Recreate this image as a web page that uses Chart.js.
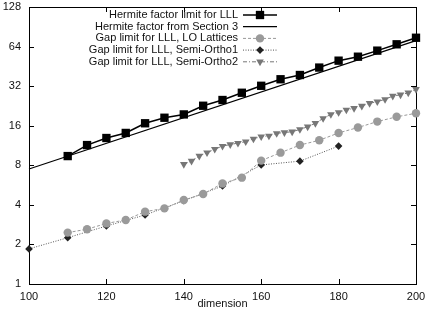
<!DOCTYPE html>
<html>
<head>
<meta charset="utf-8">
<script src="https://cdn.jsdelivr.net/npm/chart.js@4/dist/chart.umd.min.js"></script>
<style>
  html, body { margin: 0; padding: 0; background: #fff; }
  #wrap { width: 427px; height: 312px; }
</style>
</head>
<body>
<div id="wrap"><canvas id="gap-chart"></canvas></div>
<script>
// Axis ticks
const xTicks = [100, 120, 140, 160, 180, 200];
const yTicks = [1, 2, 4, 8, 16, 32, 64, 128];

// Hermite factor limit for LLL (squares)
const hermiteDims = [110, 115, 120, 125, 130, 135, 140, 145, 150, 155, 160, 165, 170, 175, 180, 185, 190, 195, 200];
const hermiteLLL = [9.4, 11.4, 12.9, 14.1, 16.7, 18.4, 19.5, 22.7, 25.1, 28.5, 32.2, 36.1, 38.9, 44.3, 50.0, 53.6, 59.6, 66.6, 74.7];

// Hermite factor from Section 3 (straight line on the log axis)
const section3Dims = [100, 200];
const section3 = [7.5, 71];

// Gap limit for LLL, LO Lattices (circles)
const loDims = [110, 115, 120, 125, 130, 135, 140, 145, 150, 155, 160, 165, 170, 175, 180, 185, 190, 195, 200];
const loLattices = [2.46, 2.61, 2.89, 3.07, 3.55, 3.76, 4.35, 4.84, 5.82, 6.44, 8.68, 9.98, 11.4, 12.4, 14.1, 15.5, 17.2, 18.7, 19.9];

// Gap limit for LLL, Semi-Ortho1 (diamonds)
const ortho1Dims = [100, 110, 120, 130, 140, 150, 160, 170, 180];
const semiOrtho1 = [1.85, 2.25, 2.76, 3.35, 4.3, 5.56, 8.05, 8.6, 11.2];

// Gap limit for LLL, Semi-Ortho2 (down triangles)
const ortho2Dims = [140, 142, 144, 146, 148, 150, 152, 154, 156, 158, 160, 162, 164, 166, 168, 170,
                    172, 174, 176, 178, 180, 182, 184, 186, 188, 190, 192, 194, 196, 198, 200];
const semiOrtho2 = [8.14, 8.62, 9.41, 9.98, 10.6, 11.2, 11.5, 11.8, 12.1, 12.7, 13.2, 13.4, 14.0, 14.2, 14.4, 15.0,
                    15.7, 16.7, 18.2, 19.5, 20.2, 21.1, 21.7, 22.6, 23.7, 24.4, 25.4, 26.9, 27.5, 28.5, 30.3];

const FONT = '"Liberation Sans", Arial, Helvetica, sans-serif';

function start() {
    // Helper to zip x and y arrays into points
    function pts(xs, ys) {
        return xs.map((x, i) => ({ x: x, y: ys[i] }));
    }

    // Draw a marker like the ones in the chart (used for the key)
    function marker(ctx, ds, x, y) {
        const r = ds.pointRadius;
        if (!r) return;
        ctx.save();
        ctx.fillStyle = ds.pointBackgroundColor;
        ctx.beginPath();
        if (ds.pointStyle === 'rect') {
            const s = Math.SQRT1_2 * r;
            ctx.rect(x - s, y - s, 2 * s, 2 * s);
        } else if (ds.pointStyle === 'rectRot') {
            ctx.moveTo(x, y - r); ctx.lineTo(x + r, y); ctx.lineTo(x, y + r); ctx.lineTo(x - r, y);
        } else if (ds.pointStyle === 'triangle') {
            const h = r * Math.sqrt(3) / 2;
            ctx.moveTo(x, y + r); ctx.lineTo(x - h, y - r / 2); ctx.lineTo(x + h, y - r / 2);
        } else {
            ctx.arc(x, y, r, 0, Math.PI * 2);
        }
        ctx.closePath();
        ctx.fill();
        ctx.restore();
    }

    // Border box with inward ticks on all four sides
    const framePlugin = {
        id: 'frame',
        beforeDatasetsDraw(chart) {
            const { ctx, chartArea: a, scales } = chart;
            ctx.save();
            ctx.strokeStyle = '#000';
            ctx.lineWidth = 1;
            ctx.strokeRect(a.left + 0.5, a.top + 0.5, a.right - a.left, a.bottom - a.top);
            ctx.beginPath();
            const t = 5;
            xTicks.forEach(v => {
                const px = Math.round(scales.x.getPixelForValue(v)) + 0.5;
                ctx.moveTo(px, a.bottom); ctx.lineTo(px, a.bottom - t);
                ctx.moveTo(px, a.top); ctx.lineTo(px, a.top + t);
            });
            yTicks.forEach(v => {
                const py = Math.round(scales.y.getPixelForValue(v)) + 0.5;
                ctx.moveTo(a.left, py); ctx.lineTo(a.left + t, py);
                ctx.moveTo(a.right, py); ctx.lineTo(a.right - t, py);
            });
            ctx.stroke();
            ctx.restore();
        }
    };

    // gnuplot style key: text right aligned, sample to the right
    const keyPlugin = {
        id: 'key',
        afterDraw(chart) {
            const ctx = chart.ctx;
            const textRight = 238, lineL = 243, lineR = 277, top = 15, step = 11.7;
            ctx.save();
            ctx.font = '11px ' + FONT;
            ctx.textAlign = 'right';
            ctx.textBaseline = 'middle';
            chart.data.datasets.forEach((ds, i) => {
                const y = top + i * step;
                ctx.fillStyle = '#111';
                ctx.fillText(ds.label, textRight, y);
                ctx.strokeStyle = ds.borderColor;
                ctx.lineWidth = ds.borderWidth;
                ctx.setLineDash(ds.borderDash || []);
                ctx.beginPath();
                ctx.moveTo(lineL, y);
                ctx.lineTo(lineR, y);
                ctx.stroke();
                ctx.setLineDash([]);
                marker(ctx, ds, (lineL + lineR) / 2, y);
            });
            ctx.restore();
        }
    };

    const ctx = document.getElementById('gap-chart').getContext('2d');
    new Chart(ctx, {
        type: 'scatter',
        data: {
            datasets: [
                {
                    label: 'Hermite factor limit for LLL',
                    data: pts(hermiteDims, hermiteLLL),
                    showLine: true,
                    borderColor: '#000',
                    borderWidth: 1.5,
                    pointStyle: 'rect',
                    pointRadius: 5.9,
                    pointBackgroundColor: '#000',
                    pointBorderWidth: 0,
                    clip: false
                },
                {
                    label: 'Hermite factor from Section 3',
                    data: pts(section3Dims, section3),
                    showLine: true,
                    borderColor: '#000',
                    borderWidth: 1.2,
                    pointRadius: 0,
                    clip: false
                },
                {
                    label: 'Gap limit for LLL, LO Lattices',
                    data: pts(loDims, loLattices),
                    showLine: true,
                    borderColor: '#999',
                    borderWidth: 1,
                    borderDash: [3, 2],
                    pointStyle: 'circle',
                    pointRadius: 4.2,
                    pointBackgroundColor: '#9a9a9a',
                    pointBorderWidth: 0,
                    clip: false
                },
                {
                    label: 'Gap limit for LLL, Semi-Ortho1',
                    data: pts(ortho1Dims, semiOrtho1),
                    showLine: true,
                    borderColor: '#555',
                    borderWidth: 1,
                    borderDash: [1, 1.5],
                    pointStyle: 'rectRot',
                    pointRadius: 3.8,
                    pointBackgroundColor: '#222',
                    pointBorderWidth: 0,
                    clip: false
                },
                {
                    label: 'Gap limit for LLL, Semi-Ortho2',
                    data: pts(ortho2Dims, semiOrtho2),
                    showLine: true,
                    borderColor: '#777',
                    borderWidth: 1,
                    borderDash: [4, 2, 1, 2],
                    pointStyle: 'triangle',
                    rotation: 180,
                    pointRotation: 180,
                    pointRadius: 4.4,
                    pointBackgroundColor: '#777',
                    pointBorderWidth: 0,
                    clip: false
                }
            ]
        },
        options: {
            responsive: true,
            maintainAspectRatio: false,
            animation: false,
            devicePixelRatio: 1,
            layout: { padding: { top: 7, right: 11, left: 0, bottom: 0 } },
            plugins: {
                legend: { display: false },
                tooltip: { enabled: false }
            },
            scales: {
                x: {
                    type: 'linear',
                    min: 100,
                    max: 200,
                    afterBuildTicks: s => { s.ticks = xTicks.map(v => ({ value: v })); },
                    afterFit: s => { s.height = 28; s.paddingLeft = 0; s.paddingRight = 0; },
                    grid: { display: false, drawTicks: false },
                    border: { display: false },
                    ticks: { padding: 6, color: '#111', font: { family: FONT, size: 11 }, maxRotation: 0 },
                    title: {
                        display: true,
                        text: 'dimension',
                        color: '#111',
                        font: { family: FONT, size: 11 },
                        padding: { top: 0, bottom: 1 }
                    }
                },
                y: {
                    type: 'logarithmic',
                    min: 1,
                    max: 128,
                    afterBuildTicks: s => { s.ticks = yTicks.map(v => ({ value: v })); },
                    afterFit: s => { s.width = 29; s.paddingTop = 0; s.paddingBottom = 0; },
                    grid: { display: false, drawTicks: false },
                    border: { display: false },
                    ticks: {
                        padding: 8,
                        color: '#111',
                        font: { family: FONT, size: 11 },
                        callback: v => String(v)
                    }
                }
            }
        },
        plugins: [framePlugin, keyPlugin]
    });
}

// Draw once the page is loaded
window.addEventListener('load', start, false);
</script>
</body>
</html>
